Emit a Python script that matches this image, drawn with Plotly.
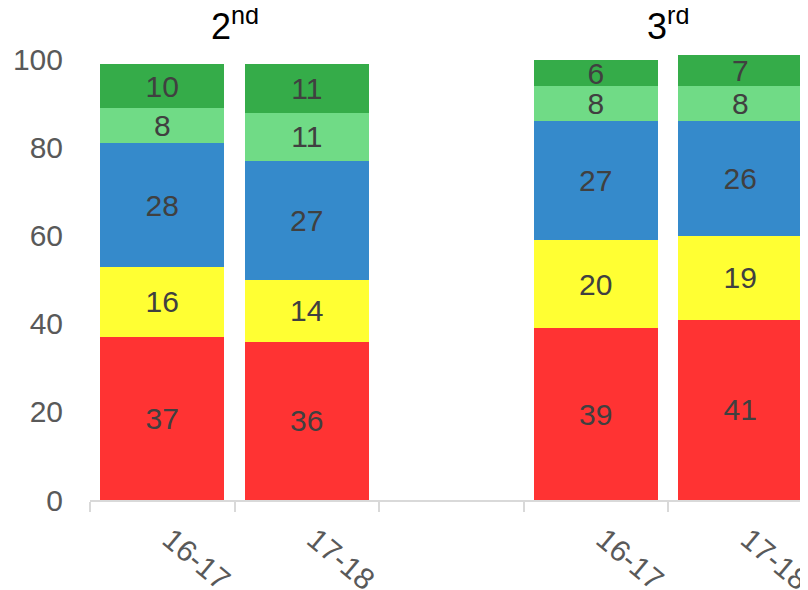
import plotly.graph_objects as go

categories = ["16-17", "17-18", " ", "16-17 ", "17-18 "]
group_labels = ["2<sup>nd</sup>", "3<sup>rd</sup>"]
group_positions = [0.5, 3.5]

series_names = ["Red", "Yellow", "Blue", "Light green", "Dark green"]
red = [37, 36, None, 39, 41]
yellow = [16, 14, None, 20, 19]
blue = [28, 27, None, 27, 26]
light_green = [8, 11, None, 8, 8]
dark_green = [10, 11, None, 6, 7]

series_values = [red, yellow, blue, light_green, dark_green]
colors = ["#FF3333", "#FFFF33", "#358ACB", "#70DB86", "#35AC49"]

fig = go.Figure()
for name, vals, col in zip(series_names, series_values, colors):
    fig.add_trace(go.Bar(
        x=categories, y=vals, name=name,
        marker=dict(color=col, line=dict(width=0)),
        text=["" if v is None else str(v) for v in vals],
        textposition="inside", insidetextanchor="middle", textangle=0,
        textfont=dict(family="Liberation Sans, Arial, sans-serif", size=30, color="#404040"),
        width=0.86,
    ))

for lab, pos in zip(group_labels, group_positions):
    fig.add_annotation(x=pos, y=1.06, xref="x", yref="paper", text=lab, showarrow=False,
                       font=dict(family="Liberation Sans, Arial, sans-serif", size=36, color="#000000"),
                       xanchor="center", yanchor="middle")

fig.update_layout(
    barmode="stack", width=808, height=590,
    margin=dict(l=82, r=0, t=43, b=98, autoexpand=False),
    plot_bgcolor="white", paper_bgcolor="white", showlegend=False,
    uniformtext=dict(minsize=30, mode="show"),
    font=dict(family="Liberation Sans, Arial, sans-serif"),
)
fig.update_xaxes(
    type="category", categoryorder="array", categoryarray=categories, automargin=False,
    range=[-0.5, 4.524], showgrid=False, showline=True, linecolor="#D9D9D9", linewidth=2,
    ticks="outside", tickson="boundaries", ticklen=10, tickcolor="#D9D9D9", tickwidth=2,
    tickangle=40, ticklabelshift=8, ticklabelstandoff=8,
    tickfont=dict(size=30, color="#595959"),
)
fig.update_yaxes(
    range=[0, 102], tickvals=[0, 20, 40, 60, 80, 100], showgrid=False, zeroline=False,
    automargin=False,
    showline=False, ticks="", ticklabelstandoff=26, tickfont=dict(size=30, color="#595959"),
)
fig.write_html("out.html")
